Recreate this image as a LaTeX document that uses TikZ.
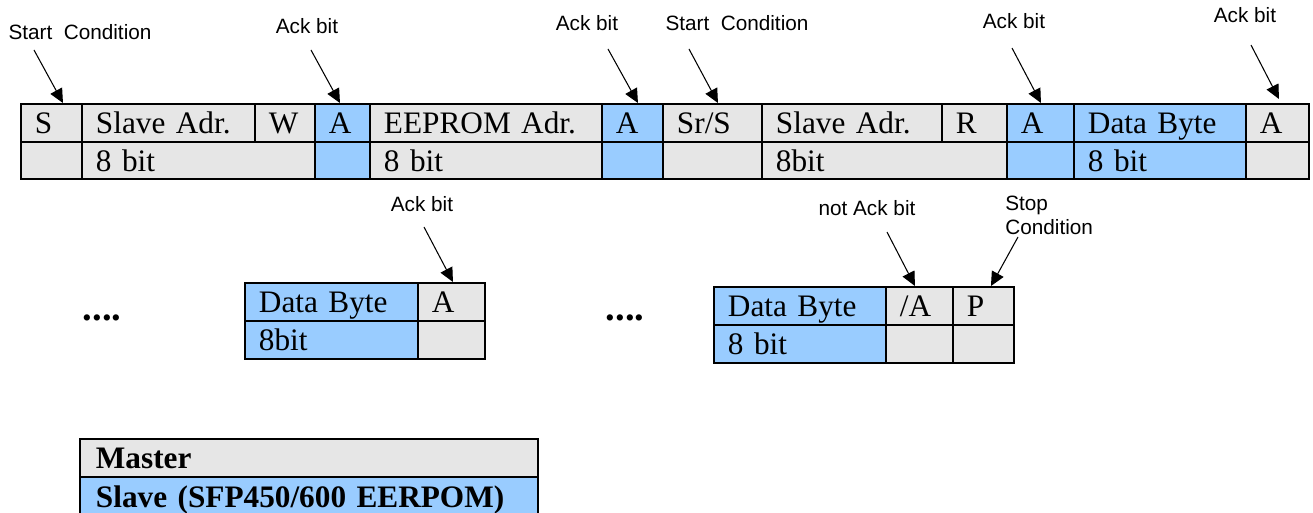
\documentclass[tikz,border=0pt]{standalone}
\usepackage{fontspec}
\setmainfont{Liberation Serif}
\newfontfamily\labelfont{Liberation Sans}
\usetikzlibrary{calc}
\usetikzlibrary{arrows.meta}
\definecolor{mastergray}{HTML}{E6E6E6}
\definecolor{slaveblue}{HTML}{99CCFF}

\begin{document}
\begin{tikzpicture}[x=0.02cm, y=-0.02cm,
  cell/.style = {draw, line width=1.1pt, anchor=north west, inner xsep=0.28cm,
        inner ysep=0pt, minimum height=0.76cm, align=left,
        text height=12pt, text depth=0pt, font=\fontsize{17.8}{20}\selectfont},
  lower/.style = {minimum height=0.74cm},
  master/.style = {cell, fill=mastergray},
  slave/.style = {cell, fill=slaveblue},
  more/.style = {font=\fontsize{22}{26}\selectfont\bfseries, inner sep=0pt},
  note/.style = {font=\labelfont\fontsize{11.8}{13.2}\selectfont, inner sep=0pt},
  pointer/.style = {line width=0.6pt, -{Triangle[length=8pt, width=7.5pt]}}]
 \useasboundingbox (0,0) rectangle (1313,513);
 % first frame, upper row
 \node[master, text width=0.66cm] (s)    at (20,103)   {S};
 \node[master, text width=2.90cm] (sadr) at (81,103)   {Slave Adr.};
 \node[master, text width=0.64cm] (w)    at (254,103)  {W};
 \node[slave,  text width=0.54cm] (ack1) at (314,103)  {A};
 \node[master, text width=4.08cm] (eadr) at (369,103)  {EEPROM Adr.};
 \node[slave,  text width=0.66cm] (ack2) at (601,103)  {A};
 \node[master, text width=1.42cm] (sr)   at (662,103)  {Sr/S};
 \node[master, text width=3.04cm] (radr) at (761,103)  {Slave Adr.};
 \node[master, text width=0.74cm] (r)    at (941,103)  {R};
 \node[slave,  text width=0.78cm] (ack3) at (1006,103) {A};
 \node[slave,  text width=2.88cm] (data) at (1073,103) {Data Byte};
 \node[master, text width=0.70cm] (ack4) at (1245,103) {A};
 % first frame, lower row
 \node[master, lower, text width=0.66cm] (sb)    at (20,141)   {};
 \node[master, lower, text width=4.10cm] (sadrb) at (81,141)   {8 bit};
 \node[slave,  lower, text width=0.54cm] (ack1b) at (314,141)  {};
 \node[master, lower, text width=4.08cm] (eadrb) at (369,141)  {8 bit};
 \node[slave,  lower, text width=0.66cm] (ack2b) at (601,141)  {};
 \node[master, lower, text width=1.42cm] (srb)   at (662,141)  {};
 \node[master, lower, text width=4.34cm] (radrb) at (761,141)  {8bit};
 \node[slave,  lower, text width=0.78cm] (ack3b) at (1006,141) {};
 \node[slave,  lower, text width=2.88cm] (datab) at (1073,141) {8 bit};
 \node[master, lower, text width=0.70cm] (ack4b) at (1245,141) {};
 % more data bytes
 \node[more] (dots1) at (102,318) {....};
 \node[slave,  text width=2.90cm] (data1)  at (244,282) {Data Byte};
 \node[master, text width=0.78cm] (ack5)   at (417,282) {A};
 \node[slave,  text width=2.90cm] (data1b) at (244,320) {8bit};
 \node[master, text width=0.78cm] (ack5b)  at (417,320) {};
 \node[more] (dots2) at (625,318) {....};
 \node[slave,  text width=2.88cm] (data2)  at (713,286) {Data Byte};
 \node[master, text width=0.78cm] (nack)   at (885,286) {/A};
 \node[master, text width=0.66cm] (stop)   at (952,286) {P};
 \node[slave,  text width=2.88cm] (data2b) at (713,324) {8 bit};
 \node[master, text width=0.78cm] (nackb)  at (885,324) {};
 \node[master, text width=0.66cm] (stopb)  at (952,324) {};
 % legend
 \node[master, text width=8.52cm, inner xsep=0.32cm,
       font=\fontsize{17.8}{20}\selectfont\bfseries] (mst) at (79,438) {Master};
 \node[slave, text width=8.52cm, inner xsep=0.32cm, minimum height=0.8cm,
       font=\fontsize{17.8}{20}\selectfont\bfseries] (slv) at (79,476) {Slave (SFP450/600 EERPOM)};
 % labels
 \node[note] (lstart1) at (80,32)   {Start~ Condition};
 \node[note] (lack1)   at (307,26)  {Ack bit};
 \node[note] (lack2)   at (587,23)  {Ack bit};
 \node[note] (lstart2) at (737,23)  {Start~ Condition};
 \node[note] (lack3)   at (1014,21) {Ack bit};
 \node[note] (lack4)   at (1245,15) {Ack bit};
 \node[note] (lack5)   at (422,204) {Ack bit};
 \node[note] (lnack)   at (867,208) {not Ack bit};
 \node[note, align=left, anchor=north west] (lstop) at (1005,196) {Stop\\Condition};
 % pointers
 \coordinate (t1) at (34,50);
 \coordinate (t2) at (311,50);
 \coordinate (t3) at (608,49);
 \coordinate (t4) at (689,49);
 \coordinate (t5) at (1012,48);
 \coordinate (t6) at (1251,45);
 \coordinate (t7) at (424,227);
 \coordinate (t8) at (887,232);
 \coordinate (t9) at (1018,237);
 \draw[pointer] (t1) -- ($(s.north)+(11.5,0)$);
 \draw[pointer] (t2) -- ($(ack1.north)+(-2.5,0)$);
 \draw[pointer] (t3) -- ($(ack2.north)+(5.5,0)$);
 \draw[pointer] (t4) -- ($(sr.north)+(5.5,0)$);
 \draw[pointer] (t5) -- ($(ack3.north)+(0.5,0)$);
 \draw[pointer] (t6) -- ($(ack4.north)+(1.5,-4)$);
 \draw[pointer] (t7) -- ($(ack5.north)+(1.5,0)$);
 \draw[pointer] (t8) -- ($(nack.north)+(-4.5,0)$);
 \draw[pointer] (t9) -- ($(stop.north)+(7.5,0)$);
\end{tikzpicture}
\end{document}
